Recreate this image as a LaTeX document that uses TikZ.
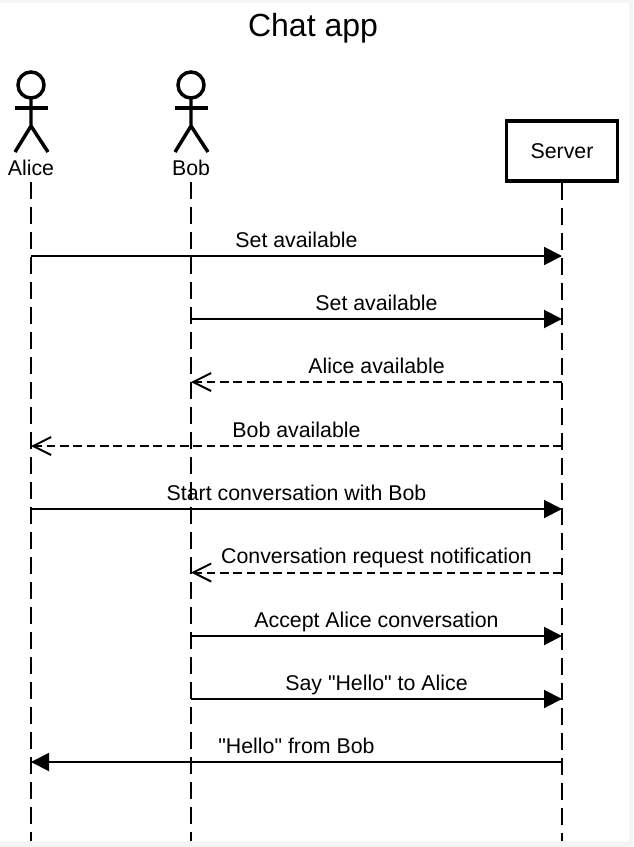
\documentclass[tikz,border=0pt]{standalone}
\usepackage{fontspec}
\setmainfont{Liberation Sans}[Ligatures=TeXOff]
\usetikzlibrary{arrows.meta}
\definecolor{pagegray}{HTML}{F5F5F5}
\tikzset{
  figure/.style={draw,line width=2.6pt},
  lifeline/.style={draw,line width=1.5pt,dash pattern=on 12.75pt off 6pt},
  message/.style={draw,line width=1.5pt,-{Triangle[length=13.5pt,width=13.5pt]}},
  reply/.style={draw,line width=1.5pt,dash pattern=on 6.5pt off 3.5pt,-{Straight Barb[length=13.5pt,width=13.5pt,line width=1.5pt]}},
  msglabel/.style={midway,anchor=base,inner sep=0pt,yshift=6.4pt,font=\fontsize{16pt}{18pt}\selectfont},
  actorlabel/.style={inner sep=0.75pt,font=\fontsize{16pt}{18pt}\selectfont}
}
\begin{document}
\begin{tikzpicture}[x=0.75pt,y=0.75pt,yscale=-1,xscale=1]
\useasboundingbox (0,0) rectangle (633,847);

%Shape: Page
\fill [pagegray] (0,0) rectangle (633,847);
\fill [white] (0,3) rectangle (629,841);

% Text Node
\node (title) at (313,28) [inner sep=0.75pt,font=\fontsize{24pt}{28pt}\selectfont] {Chat app};

%Shape: Actor Alice
\draw [figure] (31,85) circle [radius=13];
\draw [figure] (31,98) -- (31,126) -- (15,152);
\draw [figure] (31,126) -- (48,152);
\draw [figure] (15,108) -- (48,108);
%Shape: Actor Bob
\draw [figure] (191,85) circle [radius=13];
\draw [figure] (191,98) -- (191,126) -- (175,152);
\draw [figure] (191,126) -- (208,152);
\draw [figure] (175,108) -- (208,108);

% Text Node
\node (alice) at (31,168) [actorlabel] {Alice};
\node (bob) at (191,168) [actorlabel] {Bob};
\node (server) at (562,151) [draw,line width=2.6pt,minimum width=83pt,minimum height=45pt,inner sep=0pt,actorlabel] {\raisebox{-0.75pt}{Server}};

%Straight Lines
\coordinate (aliceTop) at (31,182);
\coordinate (bobTop) at (191,182);
\coordinate (aliceEnd) at (31,841);
\coordinate (bobEnd) at (191,841);
\coordinate (serverEnd) at (562,841);
\draw [lifeline] (aliceTop) -- (aliceEnd);
\draw [lifeline] (bobTop) -- (bobEnd);
\draw [lifeline] (server.south) -- (serverEnd);

%Message anchors
\coordinate (a1) at (31,256);
\coordinate (s1) at (562,256);
\coordinate (b2) at (191,319);
\coordinate (s2) at (562,319);
\coordinate (s3) at (562,382);
\coordinate (b3) at (191,382);
\coordinate (s4) at (562,446);
\coordinate (a4) at (31,446);
\coordinate (a5) at (31,509);
\coordinate (s5) at (562,509);
\coordinate (s6) at (562,572.5);
\coordinate (b6) at (191,572.5);
\coordinate (b7) at (191,636);
\coordinate (s7) at (562,636);
\coordinate (b8) at (191,699);
\coordinate (s8) at (562,699);
\coordinate (s9) at (562,762);
\coordinate (a9) at (31,762);

%Straight Lines
\draw [message] (a1) -- node (m1) [msglabel] {Set available} (s1);
\draw [message] (b2) -- node (m2) [msglabel] {Set available} (s2);
\draw [reply] (s3) -- node (m3) [msglabel] {Alice available} (b3);
\draw [reply] (s4) -- node (m4) [msglabel] {Bob available} (a4);
\draw [message] (a5) -- node (m5) [msglabel] {Start conversation with Bob} (s5);
\draw [reply] (s6) -- node (m6) [msglabel] {Conversation request notification} (b6);
\draw [message] (b7) -- node (m7) [msglabel] {Accept Alice conversation} (s7);
\draw [message] (b8) -- node (m8) [msglabel] {Say "Hello" to Alice} (s8);
\draw [message] (s9) -- node (m9) [msglabel] {"Hello" from Bob} (a9);

\end{tikzpicture}
\end{document}
